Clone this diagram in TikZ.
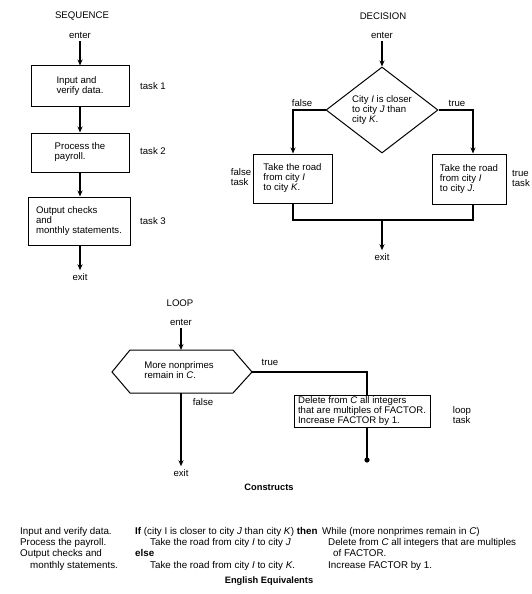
\documentclass[tikz,border=0pt]{standalone}
\usepackage{fontspec}
\setmainfont{Liberation Sans}
\usetikzlibrary{arrows.meta,shapes.geometric}
\begin{document}
\begin{tikzpicture}[x=1pt,y=-1pt,
  every node/.style={font=\fontsize{9.6}{10}\selectfont, inner sep=0pt},
  box/.style={draw, line width=1pt, align=left},
  flow/.style={line width=1.8pt},
  arr/.style={flow,-{Stealth[length=6pt,width=5pt]}},
  lbl/.style={align=left},
  btext/.style={anchor=north west, align=left, font=\fontsize{9.8}{11.3}\selectfont},
  btitle/.style={font=\fontsize{9.3}{10}\selectfont\bfseries}]
\useasboundingbox (0,0) rectangle (532,594);

% ---------- SEQUENCE ----------
\node (sqt) at (82,16) {SEQUENCE};
\node (sqin) at (80,35) {enter};
\node[box, minimum width=98pt, minimum height=40pt] (s1) at (80,86) {Input and\\verify data.};
\node[box, minimum width=98pt, minimum height=39pt] (s2) at (80,152.5) {Process the\\payroll.};
\node[box, minimum width=102pt, minimum height=48pt] (s3) at (79,221) {Output checks\\and\\monthly statements.};
\node (sqout) at (80,277) {exit};
\node (t1) at (153,86) {task 1};
\node (t2) at (153,151) {task 2};
\node (t3) at (153,221) {task 3};
\draw[arr, shorten <=3pt] (sqin.south) -- (s1.north);
\draw[arr] (s1.south) -- (s2.north);
\draw[arr] (s2.south) -- (s2.south |- s3.north);
\draw[arr, shorten >=3pt] (s3.south -| sqout) -- (sqout.north);

% ---------- DECISION ----------
\node (dct) at (383,16) {DECISION};
\node (dcin) at (382,35) {enter};
\node[diamond, draw, line width=1pt, aspect=1.3, minimum width=112pt, minimum height=86pt, align=left] (dia) at (382,110) {City \textit{I} is closer\\to city \textit{J} than\\city \textit{K}.};
\node[box, minimum width=79pt, minimum height=49pt] (lb) at (292.5,178.5) {Take the road\\from city \textit{I}\\to city \textit{K}.};
\node[box, minimum width=74pt, minimum height=50pt] (rb) at (469,179) {Take the road\\from city \textit{I}\\to city \textit{J}.};
\node (fl) at (302,103) {false};
\node (tl) at (457,103) {true};
\node[lbl] (ft) at (241,177) {false\\task};
\node[lbl] (tt) at (521,178) {true\\task};
\node (dcout) at (382,257) {exit};
\coordinate (lc) at (293,110);
\coordinate (rc) at (473,110);
\coordinate (dm) at (382,220);
\draw[arr, shorten <=3pt] (dcin.south) -- (dia.north);
\draw[arr] (dia.west) -- (lc) -- (lc |- lb.north);
\draw[arr] (dia.east) -- (rc) -- (rc |- rb.north);
\draw[flow] (lc |- lb.south) -- (lc |- dm) -- (rc |- dm) -- (rc |- rb.south);
\draw[arr, shorten >=3pt] (dm) -- (dcout.north);

% ---------- LOOP ----------
\node (lpt) at (180,303) {LOOP};
\node (lpin) at (181,322) {enter};
\draw[line width=1pt] (112,372) -- (130,350) -- (233,350) -- (252,372) -- (233,393) -- (130,393) -- cycle;
\node[lbl] (hex) at (179,370) {More nonprimes\\remain in \textit{C}.};
\coordinate (hexT) at (181,350);
\coordinate (hexR) at (252,372);
\coordinate (hexB) at (181,393);
\node (ltl) at (270,362) {true};
\node[box, minimum width=136pt, minimum height=32pt] (lpb) at (362,411) {Delete from \textit{C} all integers\\that are multiples of FACTOR.\\Increase FACTOR by 1.};
\node[lbl] (lpk) at (462,415) {loop\\task};
\node (lfl) at (203,402) {false};
\node (lpout) at (181,473) {exit};
\coordinate (lr) at (367,372);
\coordinate (dot) at (367,460);
\draw[arr, shorten <=3pt] (lpin.south) -- (hexT);
\draw[flow] (hexR) -- (lr) -- (lr |- lpb.north);
\draw[flow] (lr |- lpb.south) -- (dot);
\fill (dot) circle (2.6pt);
\draw[arr, shorten >=3pt] (hexB) -- (lpout.north);

% ---------- Bottom text ----------
\node[btitle] (cons) at (269,487) {Constructs};
\node[btext] (c1) at (20,527) {Input and verify data.\\Process the payroll.\\Output checks and\\\hspace{10pt}monthly statements.};
\node[btext] (c2) at (135,527) {\textbf{If} (city I is closer to city \textit{J} than city \textit{K}) \textbf{then}\\\hspace{15pt}Take the road from city \textit{I} to city \textit{J}\\\textbf{else}\\\hspace{15pt}Take the road from city \textit{I} to city \textit{K}.};
\node[btext] (c3) at (322,527) {While (more nonprimes remain in \textit{C})\\\hspace{6pt}Delete from \textit{C} all integers that are multiples\\\hspace{11pt}of FACTOR.\\\hspace{6pt}Increase FACTOR by 1.};
\node[btitle] (eng) at (269,581) {English Equivalents};
\end{tikzpicture}
\end{document}
